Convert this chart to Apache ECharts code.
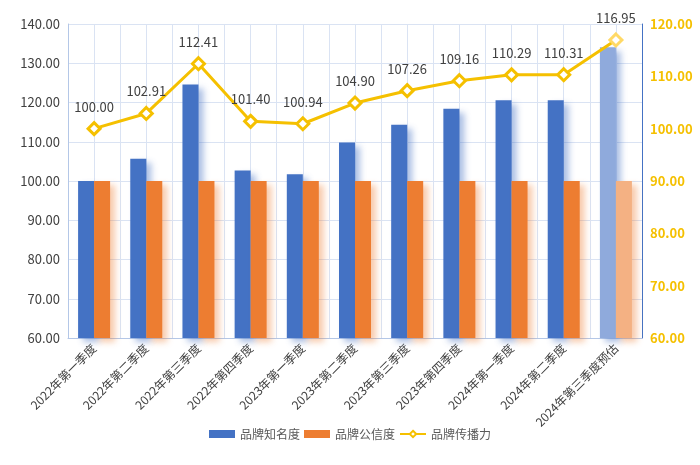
<!DOCTYPE html>
<html><head><meta charset="utf-8">
<script src="https://cdn.jsdelivr.net/npm/echarts@6/dist/echarts.min.js"></script>
<style>html,body{margin:0;padding:0;background:#fff}#c{width:700px;height:465px}</style>
</head><body><div id="c"></div>
<script>
var categories = ['2022年第一季度','2022年第二季度','2022年第三季度','2022年第四季度','2023年第一季度','2023年第二季度','2023年第三季度','2023年第四季度','2024年第一季度','2024年第二季度','2024年第三季度预估'];
var awareness = [100.0, 105.7, 124.6, 102.7, 101.7, 109.8, 114.3, 118.4, 120.6, 120.6, 134.1];
var credibility = [100, 100, 100, 100, 100, 100, 100, 100, 100, 100, 100];
var spread = [100.00, 102.91, 112.41, 101.40, 100.94, 104.90, 107.26, 109.16, 110.29, 110.31, 116.95];
var leftTicks = {min: 60, max: 140, interval: 10};
var rightTicks = {min: 60, max: 120, interval: 10};
var seriesNames = ['品牌知名度', '品牌公信度', '品牌传播力'];
var forecastIndex = categories.length - 1;

var FONT = '"Noto Sans CJK SC", "Noto Sans", sans-serif';
var BLUE = '#4472c4', BLUE_L = '#8faadc';
var ORANGE = '#ed7d31', ORANGE_L = '#f4b183';
var GOLD = '#f5c000', GOLD_L = '#ffd966';

function barData(vals, c, cl) {
  return vals.map(function (v, i) {
    return i === forecastIndex ? {value: v, itemStyle: {color: cl}} : v;
  });
}
var halfCats = [];
for (var i = 0; i < categories.length * 2; i++) halfCats.push('');

var chart = echarts.init(document.getElementById('c'), null, {renderer: 'canvas'});
chart.setOption({
  animation: false,
  textStyle: {fontFamily: FONT},
  grid: {left: 68, right: 58, top: 24, bottom: 127},
  legend: {
    bottom: 20, left: 'center', itemWidth: 26, itemHeight: 8, itemGap: 4,
    textStyle: {color: '#595959', fontSize: 12, fontFamily: FONT},
    data: [
      {name: seriesNames[0], icon: 'rect'},
      {name: seriesNames[1], icon: 'rect'},
      {name: seriesNames[2]}
    ]
  },
  xAxis: [{
    type: 'category', data: categories,
    axisLine: {lineStyle: {color: '#b4c7e7'}},
    axisTick: {show: false},
    axisLabel: {rotate: 45, color: '#404040', fontSize: 12, margin: 8, interval: 0, fontFamily: FONT},
    splitLine: {show: true, lineStyle: {color: '#dae3f3'}}
  }, {
    type: 'category', data: halfCats, position: 'bottom',
    axisLine: {show: false}, axisTick: {show: false}, axisLabel: {show: false},
    splitLine: {show: true, interval: 0, lineStyle: {color: '#dae3f3'}}
  }],
  yAxis: [{
    type: 'value', min: leftTicks.min, max: leftTicks.max, interval: leftTicks.interval,
    axisLine: {show: true, lineStyle: {color: '#b4c7e7'}},
    axisLabel: {color: '#404040', fontSize: 13, margin: 8, formatter: function (v) { return v.toFixed(2); }},
    splitLine: {lineStyle: {color: '#dae3f3'}}
  }, {
    type: 'value', min: rightTicks.min, max: rightTicks.max, interval: rightTicks.interval,
    position: 'right',
    axisLine: {show: true, lineStyle: {color: BLUE}},
    axisLabel: {color: GOLD, fontSize: 13, fontWeight: 'bold', margin: 8, formatter: function (v) { return v.toFixed(2); }},
    splitLine: {show: false}
  }],
  series: [{
    name: seriesNames[0], type: 'bar', barWidth: 16, barGap: '0%',
    data: barData(awareness, BLUE, BLUE_L),
    itemStyle: {color: BLUE, shadowColor: 'rgba(68,114,196,0.45)', shadowBlur: 6, shadowOffsetX: 5, shadowOffsetY: 4}
  }, {
    name: seriesNames[1], type: 'bar', barWidth: 16, barGap: '0%',
    data: barData(credibility, ORANGE, ORANGE_L),
    itemStyle: {color: ORANGE, shadowColor: 'rgba(237,125,49,0.4)', shadowBlur: 6, shadowOffsetX: 5, shadowOffsetY: 4}
  }, {
    name: seriesNames[2], type: 'line', yAxisIndex: 1,
    data: spread.map(function (v, i) {
      return i === forecastIndex ? {value: v, itemStyle: {borderColor: GOLD_L}} : v;
    }),
    symbol: 'diamond', symbolSize: 12,
    lineStyle: {color: GOLD, width: 3},
    itemStyle: {color: '#fff', borderColor: GOLD, borderWidth: 3},
    label: {show: true, position: 'top', distance: 8, color: '#404040', fontSize: 13,
      formatter: function (p) { return p.value.toFixed(2); }},
    z: 5
  }]
});
</script></body></html>
